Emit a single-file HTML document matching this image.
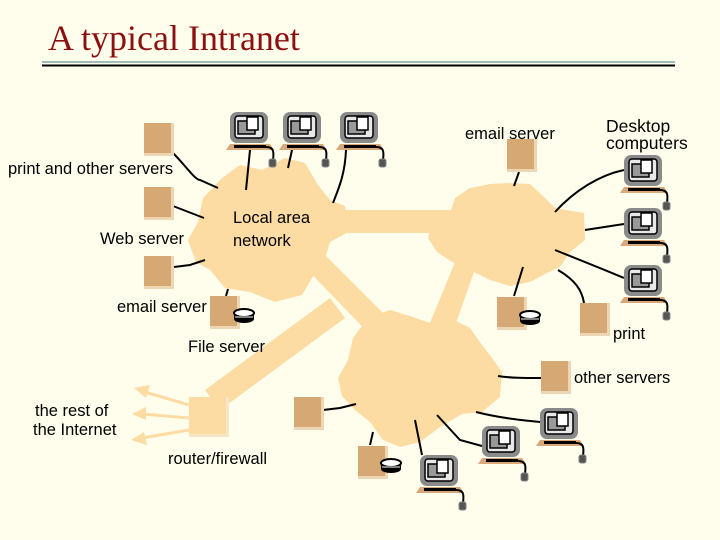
<!DOCTYPE html>
<html><head><meta charset="utf-8"><style>
html,body{margin:0;padding:0;background:#FFFEEC;}
svg{display:block}
text{font-family:"Liberation Sans",sans-serif;font-size:16.5px;fill:#000}
</style></head><body>
<svg width="720" height="540" viewBox="0 0 720 540" xmlns="http://www.w3.org/2000/svg">
<defs>
<g id="pc">
<rect x="0" y="0" width="38" height="31" rx="7" fill="#8a8a8a"/>
<rect x="5" y="4" width="28" height="22" rx="3" fill="#e8e8e8" stroke="#000" stroke-width="1.5"/>
<rect x="8" y="9" width="17" height="13" fill="#999" stroke="#000" stroke-width="1.5"/>
<rect x="17" y="5" width="11" height="13" fill="#fff" stroke="#000" stroke-width="1.5"/>
<polygon points="0,32 40,32 44,38 -4,38" fill="#d9a878"/>
<rect x="4" y="33" width="32" height="3" fill="#000"/>
<path d="M36,35 C44,35 44,40 43,48" fill="none" stroke="#000" stroke-width="2"/>
<rect x="39" y="47" width="7" height="8" rx="2" fill="#555" stroke="#888" stroke-width="1"/>
</g>
<g id="srv">
<rect x="0" y="0" width="30" height="33" fill="#ecd6b4"/>
<rect x="0" y="0" width="27" height="30" fill="#d6a874"/>
</g>
<g id="disk">
<ellipse cx="10" cy="8" rx="10" ry="4" fill="#000"/>
<rect x="0" y="2" width="20" height="6" fill="#000"/>
<ellipse cx="10" cy="2" rx="10" ry="4" fill="#fff" stroke="#000" stroke-width="2"/>
<line x1="1" y1="6" x2="19" y2="6" stroke="#fff" stroke-width="1"/>
</g>
</defs>

<text x="48" y="50" style="font-family:'Liberation Serif',serif;font-size:36px;fill:#8B1010">A typical Intranet</text>
<line x1="42" y1="62" x2="675" y2="62" stroke="#7fa8a8" stroke-width="1.5"/>
<line x1="42" y1="65.5" x2="675" y2="65.5" stroke="#000" stroke-width="2"/>

<g fill="#FCDCA2" stroke="none">
<rect x="320" y="210" width="140" height="23"/>
<polygon points="460,250 480,255 450,340 425,335"/>
<polygon points="300,262 320,250 400,330 380,345"/>
<polygon points="330,298 345,318 220,410 205,390"/>
<path d="M222,178 L240,165 262,170 285,158 305,163 318,185 330,200 345,206 348,232 330,242 324,262 312,278 302,295 275,302 250,292 225,288 210,270 196,262 188,240 198,222 203,198 Z"/>
<path d="M455,198 L470,188 490,184 510,183 530,184 545,198 555,208 584,213 585,240 570,252 560,267 545,274 530,282 510,286 490,280 470,270 452,262 437,252 428,238 433,218 450,213 Z"/>
<path d="M368,318 L390,310 410,316 430,323 450,318 470,328 482,345 492,358 502,372 500,397 482,412 462,414 440,427 420,442 400,447 383,440 370,422 355,410 342,396 338,378 348,360 353,338 Z"/>
<rect x="189" y="397" width="40" height="40" fill="#f5e7c8"/>
<rect x="189" y="397" width="37" height="37"/>
<g stroke="#FCDCA2" stroke-width="3">
<line x1="189" y1="405" x2="145" y2="392"/>
<line x1="189" y1="418" x2="142" y2="414"/>
<line x1="189" y1="430" x2="142" y2="438"/>
</g>
<polygon points="134,388 150,385 146,398"/>
<polygon points="132,414 146,407 146,420"/>
<polygon points="131,440 144,432 147,445"/>
</g>

<g fill="none" stroke="#000" stroke-width="2">
<path d="M173,153 C185,165 195,180 200,180 L218,188"/>
<path d="M173,206 L204,218"/>
<path d="M174,267 L190,265 L205,260"/>
<path d="M228,289 L226,296"/>
<path d="M250,150 L246,190"/>
<path d="M292,150 L288,168"/>
<path d="M346,150 C345,175 338,190 333,203"/>
<path d="M519,172 L514,186"/>
<path d="M555,212 C575,190 600,175 624,170"/>
<path d="M585,230 L624,224"/>
<path d="M555,250 C580,260 605,270 624,278"/>
<path d="M523,267 L514,296"/>
<path d="M558,270 C575,280 582,290 584,303"/>
<path d="M498,376 C510,378 525,378 541,378"/>
<path d="M323,410 L340,408 L356,404"/>
<path d="M373,432 L370,445"/>
<path d="M415,420 L422,455"/>
<path d="M437,415 L460,440 L482,446"/>
<path d="M476,412 C500,418 520,420 540,422"/>
</g>

<use href="#pc" x="230" y="112"/>
<use href="#pc" x="283" y="112"/>
<use href="#pc" x="340" y="112"/>
<use href="#pc" x="624" y="155"/>
<use href="#pc" x="624" y="208"/>
<use href="#pc" x="624" y="265"/>
<use href="#pc" x="540" y="408"/>
<use href="#pc" x="482" y="426"/>
<use href="#pc" x="420" y="455"/>

<use href="#srv" x="144" y="123"/>
<use href="#srv" x="144" y="187"/>
<use href="#srv" x="144" y="256"/>
<use href="#srv" x="210" y="296"/>
<use href="#srv" x="507" y="139"/>
<use href="#srv" x="497" y="297"/>
<use href="#srv" x="580" y="303"/>
<use href="#srv" x="541" y="361"/>
<use href="#srv" x="294" y="397"/>
<use href="#srv" x="358" y="446"/>
<use href="#disk" x="234" y="311"/>
<use href="#disk" x="520" y="313"/>
<use href="#disk" x="381" y="461"/>

<text x="8" y="174">print  and other servers</text>
<text x="100" y="244">Web server</text>
<text x="117" y="312">email server</text>
<text x="188" y="352">File server</text>
<text x="233" y="223">Local area</text>
<text x="233" y="246">network</text>
<text x="465" y="139">email server</text>
<text x="606" y="132" style="font-size:17.5px">Desktop</text>
<text x="606" y="149" style="font-size:17.5px">computers</text>
<text x="613" y="339">print</text>
<text x="574" y="383">other servers</text>
<text x="35" y="416">the rest of</text>
<text x="33" y="435">the Internet</text>
<text x="168" y="464">router/firewall</text>
</svg>
</body></html>
